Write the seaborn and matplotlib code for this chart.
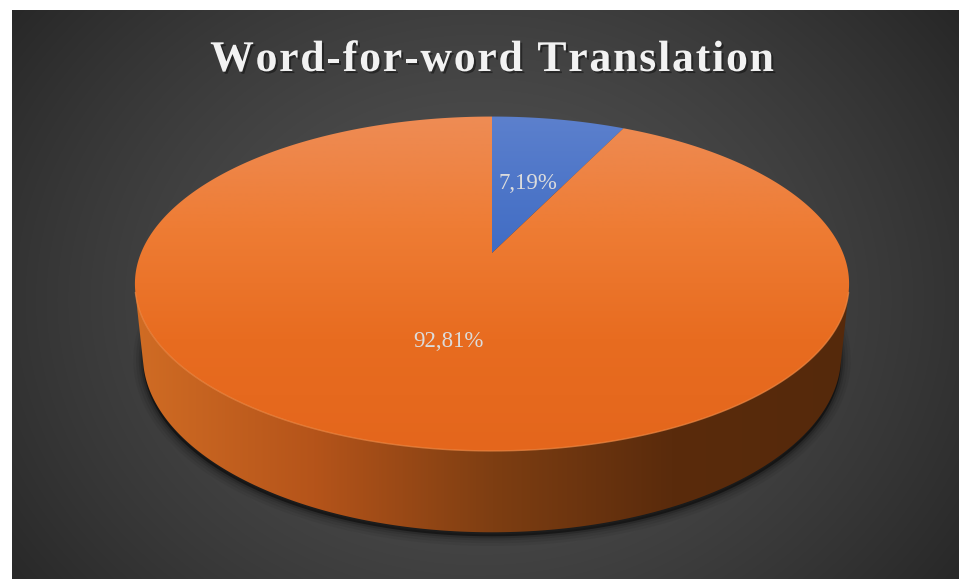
import numpy as np
import matplotlib
matplotlib.use("Agg")
import matplotlib.pyplot as plt
import matplotlib.patheffects as pe
from matplotlib.patches import Polygon
from matplotlib.font_manager import FontProperties
import seaborn as sns

# ---- data -------------------------------------------------------------
categories = ["Word-for-word", "Other"]
values = [7.19, 92.81]
labels = ["7,19%", "92,81%"]
title = "Word-for-word Translation"

sns.set_theme(style="white")
plt.rcParams["font.family"] = ["Liberation Serif", "DejaVu Serif"]

W, H = 959, 579
fig = plt.figure(figsize=(W / 100, H / 100), dpi=100, facecolor="white")
ax = fig.add_axes([0, 0, 1, 1])
ax.set_xlim(0, W)
ax.set_ylim(H, 0)
ax.axis("off")

# ---- radial dark background of the chart area --------------------------
x0, x1, y0, y1 = 12, 959, 10, 579
yy, xx = np.mgrid[y0:y1, x0:x1] + 0.5
r = np.hypot((xx - 480) / 600, (yy - 300) / 500)
g = 38 + 44 * (1 - np.clip(r, 0, 1.15) ** 1.5)
g = np.clip(g, 34, 90) / 255
bg = np.dstack([g, g, g])
ax.imshow(bg, extent=(x0, x1, y1, y0), zorder=0, interpolation="bilinear", aspect="auto")

# ---- perspective projection of a disc ----------------------------------
cx, cy = 492, 253          # screen position of the disc centre (top face)
scale = 351
phi = np.radians(27.4)     # camera elevation
dist = 4.83                # camera distance (disc radii)
thick = 0.233              # disc thickness (disc radii)
cph, sph = np.cos(phi), np.sin(phi)


def proj(X, Y, Z):
    X, Y, Z = np.asarray(X, float), np.asarray(Y, float), np.asarray(Z, float)
    zv = Y * cph + Z * sph
    yv = -Y * sph + Z * cph
    k = dist / (dist - zv)
    return cx + scale * X * k, cy - scale * yv * k


def rim(theta_deg, z, rad=1.0):
    t = np.radians(theta_deg)
    return proj(rad * np.sin(t), -rad * np.cos(t), np.full_like(t, z))


def gradient_fill(poly_xy, cmap, vertical=True, zorder=2, span=None):
    patch = Polygon(poly_xy, closed=True, facecolor="none", edgecolor="none", zorder=zorder)
    ax.add_patch(patch)
    xs, ys = poly_xy[:, 0], poly_xy[:, 1]
    if span is None:
        span = (ys.min(), ys.max()) if vertical else (xs.min(), xs.max())
    ramp = np.linspace(0, 1, 256)
    if vertical:
        img = ramp[:, None]
        ext = (xs.min() - 2, xs.max() + 2, span[1], span[0])
    else:
        img = ramp[None, :]
        ext = (span[0], span[1], ys.max() + 2, ys.min() - 2)
    im = ax.imshow(img, cmap=cmap, extent=ext, aspect="auto", zorder=zorder,
                   interpolation="bilinear", vmin=0, vmax=1)
    im.set_clip_path(patch)
    return patch


ang = np.concatenate([[0], np.cumsum(values)]) / np.sum(values) * 360

top_cmaps = [
    sns.blend_palette(["#5C80CD", "#3A68C2", "#2F5FBD"], as_cmap=True),
    sns.blend_palette(["#EE8C55", "#EE7C34", "#E86C20", "#E4661C"], as_cmap=True),
]
side_cmap = sns.blend_palette(["#D06C24", "#B5541A", "#7E3E12", "#5A2B0C", "#55290B"],
                              as_cmap=True)

# extent of the whole top ellipse, used to align gradients across slices
full_t = np.linspace(0, 360, 721)
ex, ey = rim(full_t, 0.0)
bx, by = rim(full_t, -thick)

# ---- soft shadow under the disc ----------------------------------------
shadow_xy = np.column_stack([bx, by + 4])
for lw, a in [(14, 0.05), (10, 0.07), (6, 0.10), (3, 0.16)]:
    ax.add_patch(Polygon(shadow_xy, closed=True, facecolor="none",
                         edgecolor=(0, 0, 0, a), linewidth=lw, zorder=1))
ax.add_patch(Polygon(shadow_xy, closed=True, facecolor=(0, 0, 0, 0.45),
                     edgecolor="none", zorder=1))

# ---- visible outer wall -------------------------------------------------
lim = np.degrees(np.arccos(-1 / (dist * cph)))
for a0, a1 in zip(ang[:-1], ang[1:]):
    lo, hi = max(a0, lim), min(a1, 360 - lim)
    if hi <= lo:
        continue
    tt = np.linspace(lo, hi, 300)
    tx, ty = rim(tt, 0.0)
    bxs, bys = rim(tt[::-1], -thick)
    wall = np.column_stack([np.concatenate([tx, bxs]), np.concatenate([ty, bys])])
    gradient_fill(wall, side_cmap, vertical=False, zorder=2, span=(ex.min(), ex.max()))

# ---- top faces ----------------------------------------------------------
for i, (a0, a1) in enumerate(zip(ang[:-1], ang[1:])):
    tt = np.linspace(a0, a1, max(int((a1 - a0) * 2), 10))
    tx, ty = rim(tt, 0.0)
    pcx, pcy = proj(0, 0, 0)
    face = np.column_stack([np.concatenate([[pcx], tx]), np.concatenate([[pcy], ty])])
    gradient_fill(face, top_cmaps[i], vertical=True, zorder=3, span=(ey.min(), ey.max()))

# light rim where the top face meets the wall
tt = np.linspace(lim, 360 - lim, 300)
tx, ty = rim(tt, 0.0)
ax.plot(tx, ty, color="#F28A44", lw=1.0, alpha=0.7, zorder=4)

# ---- data labels --------------------------------------------------------
for (a0, a1), lab in zip(zip(ang[:-1], ang[1:]), labels):
    mid = np.radians((a0 + a1) / 2)
    lx, ly = proj(0.5 * np.sin(mid), -0.5 * np.cos(mid), 0.0)
    ax.text(float(lx), float(ly), lab, ha="center", va="center_baseline", fontsize=16.5,
            color="#DCDCDC", zorder=5)

# ---- title (letter-spaced) ------------------------------------------------
tprop = FontProperties(family="Liberation Serif", weight="bold", size=31.5)
renderer = fig.canvas.get_renderer()
spacing = 1.8
widths = [renderer.get_text_width_height_descent(ch, tprop, ismath=False)[0]
          if ch != " " else renderer.get_text_width_height_descent("a a", tprop, ismath=False)[0]
          - 2 * renderer.get_text_width_height_descent("a", tprop, ismath=False)[0]
          for ch in title]
total = sum(widths) + spacing * (len(title) - 1)
xpos = 492 - total / 2
shadow = [pe.withSimplePatchShadow(offset=(1.5, -1.5), shadow_rgbFace="black", alpha=0.4)]
for ch, w in zip(title, widths):
    if ch != " ":
        ax.text(xpos, 71, ch, ha="left", va="baseline", fontproperties=tprop,
                color="#F2F2F2", zorder=6, path_effects=shadow)
    xpos += w + spacing

fig.savefig("out.png", dpi=100, facecolor="white")
